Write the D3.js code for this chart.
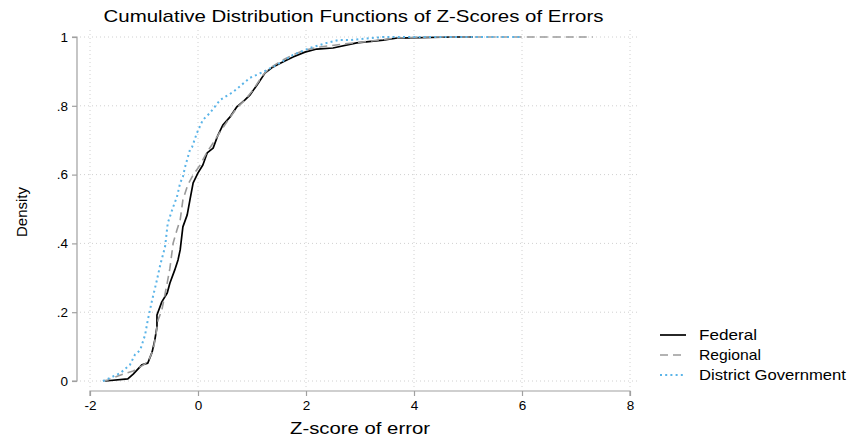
<!DOCTYPE html>
<html>
<head>
<meta charset="utf-8">
<script src="https://cdn.jsdelivr.net/npm/d3@7"></script>
<style>
  html, body { margin: 0; padding: 0; background: #fff; }
  svg { display: block; font-family: "Liberation Sans", Arial, Helvetica, sans-serif; }
</style>
</head>
<body>
<svg id="chart" width="853" height="441"></svg>
<script>
// Empirical CDF points of error z-scores, by level of government
const federalX = [-1.72, -1.30, -1.20, -1.04, -0.93, -0.85, -0.80, -0.76, -0.76, -0.67, -0.57, -0.52, -0.43, -0.37, -0.33, -0.28, -0.20, -0.15, -0.09, 0.00, 0.09, 0.17, 0.28, 0.37, 0.46, 0.59, 0.72, 0.87, 0.96, 1.09, 1.24, 1.39, 1.57, 1.76, 1.98, 2.20, 2.50, 2.94, 3.43, 3.69, 4.72, 5.09];
const federalY = [0, 0.006, 0.020, 0.047, 0.052, 0.084, 0.119, 0.157, 0.192, 0.230, 0.256, 0.285, 0.323, 0.352, 0.381, 0.448, 0.483, 0.526, 0.576, 0.605, 0.628, 0.663, 0.677, 0.715, 0.744, 0.767, 0.797, 0.817, 0.831, 0.860, 0.895, 0.913, 0.927, 0.942, 0.956, 0.965, 0.968, 0.983, 0.991, 0.997, 1.0, 1.0];

const regionalX = [-1.76, -1.67, -1.39, -1.20, -1.04, -0.93, -0.83, -0.78, -0.74, -0.67, -0.57, -0.52, -0.46, -0.39, -0.33, -0.28, -0.19, -0.09, 0.04, 0.17, 0.28, 0.41, 0.56, 0.72, 0.87, 1.02, 1.19, 1.33, 1.57, 1.76, 1.98, 2.26, 2.72, 3.19, 3.65, 4.30, 7.31];
const regionalY = [0, 0.003, 0.020, 0.029, 0.044, 0.055, 0.090, 0.134, 0.177, 0.206, 0.285, 0.328, 0.401, 0.439, 0.468, 0.526, 0.570, 0.599, 0.628, 0.666, 0.692, 0.724, 0.759, 0.794, 0.817, 0.846, 0.887, 0.910, 0.933, 0.948, 0.962, 0.971, 0.980, 0.988, 0.997, 1.0, 1.0];

const districtX = [-1.76, -1.67, -1.44, -1.26, -1.17, -1.07, -0.98, -0.93, -0.85, -0.76, -0.70, -0.61, -0.56, -0.46, -0.39, -0.33, -0.28, -0.24, -0.15, -0.11, -0.02, 0.09, 0.22, 0.41, 0.65, 0.96, 1.20, 1.46, 1.76, 2.07, 2.39, 2.59, 2.81, 3.43, 6.00];
const districtY = [0, 0.006, 0.023, 0.047, 0.076, 0.090, 0.134, 0.177, 0.235, 0.294, 0.337, 0.390, 0.459, 0.506, 0.535, 0.576, 0.593, 0.622, 0.672, 0.680, 0.721, 0.759, 0.779, 0.817, 0.840, 0.881, 0.898, 0.919, 0.948, 0.968, 0.983, 0.991, 0.991, 1.0, 1.0];

const xTicks = [-2, 0, 2, 4, 6, 8];
const xTickLabels = ["-2", "0", "2", "4", "6", "8"];
const yTicks = [0, 0.2, 0.4, 0.6, 0.8, 1];
const yTickLabels = ["0", ".2", ".4", ".6", ".8", "1"];

const seriesNames = ["Federal", "Regional", "District Government"];

const svg = d3.select("#chart");

const x = d3.scaleLinear().domain([-2, 8]).range([90, 630]);
const y = d3.scaleLinear().domain([0, 1]).range([381, 37]);

const styles = [
  { color: "#000000", width: 1.7, dash: null },
  { color: "#9a9a9a", width: 1.6, dash: "8,5" },
  { color: "#5ab4e8", width: 2.0, dash: "2,3.2" }
];

const series = [
  d3.zip(federalX, federalY),
  d3.zip(regionalX, regionalY),
  d3.zip(districtX, districtY)
];

// Grid
const grid = svg.append("g");
grid.selectAll("line.h").data(yTicks).join("line")
  .attr("x1", 80).attr("x2", 640)
  .attr("y1", d => y(d)).attr("y2", d => y(d))
  .attr("stroke", "#d0d0d0").attr("stroke-width", 1)
  .attr("stroke-dasharray", "1,3");
grid.selectAll("line.v").data(xTicks).join("line")
  .attr("x1", d => x(d)).attr("x2", d => x(d))
  .attr("y1", 30).attr("y2", 388)
  .attr("stroke", "#d0d0d0").attr("stroke-width", 1)
  .attr("stroke-dasharray", "1,3");

// Axes
const xAxis = d3.axisBottom(x).tickValues(xTicks).tickSize(5).tickPadding(4)
  .tickFormat((d, i) => xTickLabels[i]);
const gx = svg.append("g").attr("transform", "translate(0,391)").call(xAxis);
const yAxis = d3.axisLeft(y).tickValues(yTicks).tickSize(5).tickPadding(4)
  .tickFormat((d, i) => yTickLabels[i]);
const gy = svg.append("g").attr("transform", "translate(77,0)").call(yAxis);

[gx, gy].forEach(g => {
  g.select(".domain").attr("stroke", "#a0a0a0").attr("stroke-width", 1.2);
  g.selectAll(".tick line").attr("stroke", "#a0a0a0").attr("stroke-width", 1.2);
  g.selectAll(".tick text").attr("fill", "#000").style("font-size", "13.5px")
    .style("font-family", "'Liberation Sans', Arial, sans-serif");
});
gx.select(".domain").attr("d", `M${x(-2)},5V0H${x(8)}V5`);
gy.select(".domain").attr("d", `M-5,${y(1)}H0V${y(0)}H-5`);

// Lines
const line = d3.line().x(d => x(d[0])).y(d => y(d[1]));
series.forEach((pts, i) => {
  svg.append("path")
    .datum(pts)
    .attr("fill", "none")
    .attr("stroke", styles[i].color)
    .attr("stroke-width", styles[i].width)
    .attr("stroke-linejoin", "round")
    .attr("stroke-dasharray", styles[i].dash)
    .attr("d", line);
});

// Title and axis labels
svg.append("text").attr("x", 353.5).attr("y", 22).attr("text-anchor", "middle")
  .attr("textLength", 500).attr("lengthAdjust", "spacingAndGlyphs")
  .style("font-size", "17px").text("Cumulative Distribution Functions of Z-Scores of Errors");
svg.append("text").attr("x", 360).attr("y", 434).attr("text-anchor", "middle")
  .attr("textLength", 140).attr("lengthAdjust", "spacingAndGlyphs")
  .style("font-size", "17px").text("Z-score of error");
svg.append("text").attr("transform", "translate(27,212) rotate(-90)").attr("text-anchor", "middle")
  .style("font-size", "15px").text("Density");

// Legend
const legendWidths = [58, 62, 147];
const legend = svg.append("g").attr("transform", "translate(660,335)");
seriesNames.forEach((name, i) => {
  const g = legend.append("g").attr("transform", `translate(0,${i * 20})`);
  g.append("line").attr("x1", 0).attr("x2", 26).attr("y1", 0).attr("y2", 0)
    .attr("stroke", styles[i].color).attr("stroke-width", styles[i].width)
    .attr("stroke-dasharray", styles[i].dash);
  g.append("text").attr("x", 39).attr("y", 5)
    .attr("textLength", legendWidths[i]).attr("lengthAdjust", "spacingAndGlyphs")
    .style("font-size", "14.5px").text(name);
});
</script>
</body>
</html>
